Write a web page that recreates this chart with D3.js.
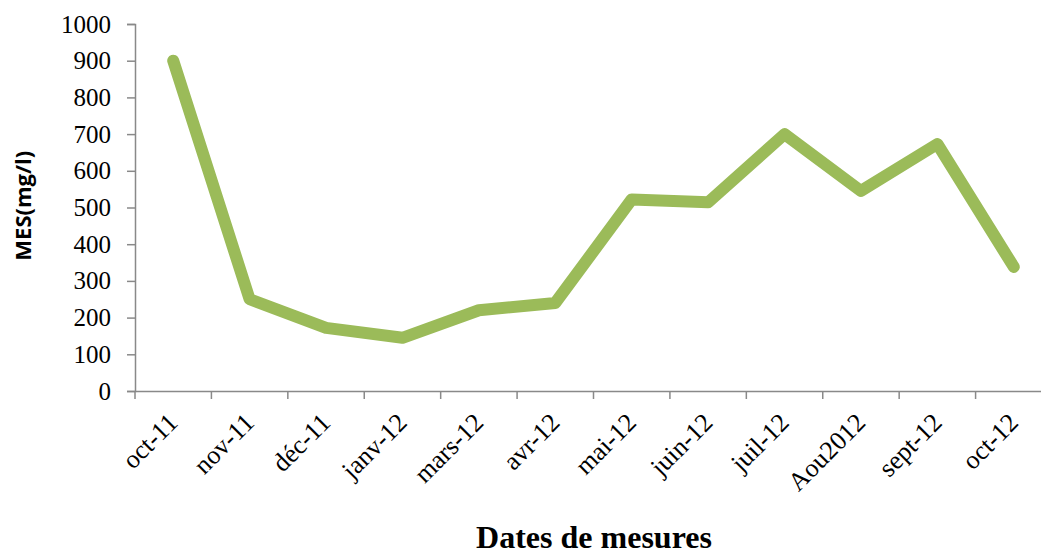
<!DOCTYPE html>
<html>
<head>
<meta charset="utf-8">
<script src="https://cdn.jsdelivr.net/npm/d3@7"></script>
<style>
  body { margin: 0; background: #fff; }
  svg { display: block; }
</style>
</head>
<body>
<div id="chart"></div>
<script>
// Data
const months = ['oct-11', 'nov-11', 'déc-11', 'janv-12', 'mars-12', 'avr-12',
  'mai-12', 'juin-12', 'juil-12', 'Aou2012', 'sept-12', 'oct-12'];
const mesValues = [900, 250, 172, 145, 220, 240, 522, 514, 700, 545, 673, 338];
const yTicks = [0, 100, 200, 300, 400, 500, 600, 700, 800, 900, 1000];

const width = 1041;
const height = 556;
const margin = { top: 24, right: -11, bottom: 165, left: 135 };

const svg = d3.select('#chart')
  .append('svg')
  .attr('width', width)
  .attr('height', height);

const innerW = width - margin.left - margin.right;
const innerH = height - margin.top - margin.bottom;

const g = svg.append('g')
  .attr('transform', `translate(${margin.left},${margin.top})`);

// Scales
const xScale = d3.scaleBand()
  .domain(months)
  .range([0, innerW])
  .padding(0);

const yScale = d3.scaleLinear()
  .domain([0, 1000])
  .range([innerH, 0]);

const axisColor = '#898989';
const serif = '"Liberation Serif", "Times New Roman", serif';

// Y axis
const yAxis = d3.axisLeft(yScale)
  .tickValues(yTicks)
  .tickSize(8)
  .tickPadding(16)
  .tickFormat(d3.format('d'));

const yG = g.append('g')
  .attr('class', 'y-axis')
  .call(yAxis);

// X axis (ticks on band boundaries)
const xAxis = d3.axisBottom(xScale).tickSize(0).tickFormat('');
const xG = g.append('g')
  .attr('class', 'x-axis')
  .attr('transform', `translate(0,${innerH})`)
  .call(xAxis);

xG.selectAll('.tick').remove();

const boundaries = months.map(m => xScale(m));
xG.selectAll('line.bound')
  .data(boundaries)
  .enter().append('line')
  .attr('class', 'bound')
  .attr('x1', d => d).attr('x2', d => d)
  .attr('y1', 0).attr('y2', 8)
  .attr('stroke', axisColor)
  .attr('stroke-width', 1.5);

xG.selectAll('text.lbl')
  .data(months)
  .enter().append('text')
  .attr('class', 'lbl')
  .attr('transform', d => `translate(${xScale(d) + xScale.bandwidth() / 2 + 6},${33}) rotate(-45)`)
  .attr('text-anchor', 'end')
  .style('font-family', serif)
  .style('font-size', '26px')
  .attr('fill', '#000')
  .text(d => d);

[yG, xG].forEach(a => {
  a.select('.domain').attr('stroke', axisColor).attr('stroke-width', 1.5);
});
yG.selectAll('.tick line').attr('stroke', axisColor).attr('stroke-width', 1.5);
yG.selectAll('.tick text')
  .attr('fill', '#000')
  .style('font-family', serif)
  .style('font-size', '25px');

// Axis titles
svg.append('text')
  .attr('transform', `translate(31,${margin.top + yScale(505)}) rotate(-90)`)
  .attr('text-anchor', 'middle')
  .style('font-family', '"Open Sans", "Liberation Sans", sans-serif')
  .style('font-weight', 'bold')
  .style('font-size', '22px')
  .text('MES(mg/l)');

svg.append('text')
  .attr('x', 594)
  .attr('y', 548)
  .attr('text-anchor', 'middle')
  .style('font-family', serif)
  .style('font-weight', 'bold')
  .style('font-size', '32px')
  .text('Dates de mesures');

// Line
const line = d3.line()
  .x((d, i) => xScale(months[i]) + xScale.bandwidth() / 2)
  .y(d => yScale(d));

g.append('path')
  .datum(mesValues)
  .attr('fill', 'none')
  .attr('stroke', '#9BBB59')
  .attr('stroke-width', 12)
  .attr('stroke-linejoin', 'round')
  .attr('stroke-linecap', 'round')
  .attr('d', line);
</script>
</body>
</html>
